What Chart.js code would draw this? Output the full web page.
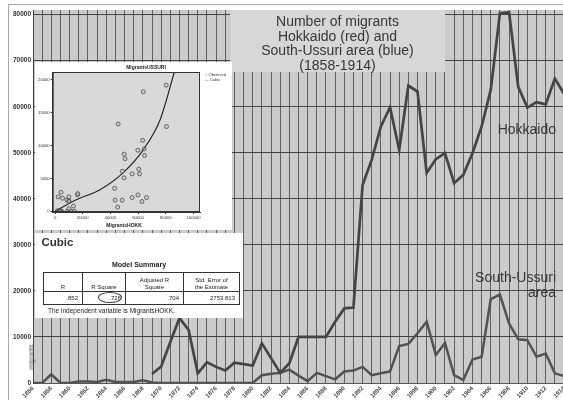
<!DOCTYPE html>
<html>
<head>
<meta charset="utf-8">
<script src="https://cdn.jsdelivr.net/npm/chart.js@4.4.1/dist/chart.umd.min.js"></script>
<style>
  html, body { margin: 0; padding: 0; background: #fff; }
  body { width: 563px; height: 400px; overflow: hidden; position: relative;
         font-family: "Liberation Sans", Arial, sans-serif; color: #333; }
  .abs { position: absolute; }
  #frame { left: 8px; top: 4px; width: 600px; height: 420px;
           border-top: 1px solid #aaa; border-left: 1px solid #aaa; }
  #mainWrap { left: 0; top: 0; width: 575px; height: 400px; }
  #titleBox { left: 230px; top: 10px; width: 215px; height: 62px; background: #d7d7d7;
              text-align: center; font-size: 14px; line-height: 14.6px; color: #363636;
              box-sizing: border-box; padding-top: 4px; }
  .seriesLabel { font-size: 14px; color: #363636; text-align: right; line-height: 15px; }
  #yTitle { left: 30.5px; top: 357px; font-size: 6.5px; color: #444;
            transform: translate(-50%, -50%) rotate(-90deg); white-space: nowrap; }
  #inset { left: 35px; top: 62px; width: 197px; height: 168px; background: #fff; }
  #insetTitle { left: 146px; top: 67px; transform: translate(-50%, -50%);
                font-size: 5px; font-weight: bold; white-space: nowrap; color: #222; }
  #insetXTitle { left: 124px; top: 225px; transform: translate(-50%, -50%);
                 font-size: 5px; font-weight: bold; white-space: nowrap; color: #222; }
  #insetLegend { left: 205px; top: 72px; font-size: 4px; line-height: 5px; color: #333; white-space: nowrap; }
  #cubicBox { left: 35px; top: 233px; width: 208px; height: 85px; background: #fff; }
  #cubicHead { left: 41.5px; top: 236px; font-size: 11.5px; font-weight: bold; color: #333; }
  #modelSum { left: 139px; top: 264px; transform: translate(-50%, -50%);
              font-size: 7px; font-weight: bold; white-space: nowrap; color: #222; }
  #summary { left: 43px; top: 272px; border-collapse: collapse; font-size: 6px; color: #222; }
  #summary td { border: 1px solid #333; padding: 0 4px 1px 4px; }
  #summary tr.h td { height: 17px; text-align: center; vertical-align: bottom; line-height: 6.5px;
                     border-bottom: 1.5px solid #333; }
  #summary tr.d td { height: 11px; text-align: right; vertical-align: middle; }
  #ring { left: 98px; top: 292px; width: 24px; height: 11px; border: 1px solid #444;
          border-radius: 50%; box-sizing: border-box; }
  #footNote { left: 48px; top: 306.5px; font-size: 6.5px; white-space: nowrap; color: #222; }
</style>
</head>
<body>
<div id="frame" class="abs"></div>
<div id="mainWrap" class="abs"><canvas id="main" width="575" height="400"></canvas></div>

<div id="titleBox" class="abs">Number of migrants<br>Hokkaido (red) and<br>South-Ussuri area (blue)<br>(1858-1914)</div>
<div class="abs seriesLabel" style="left:440px; width:116px; top:122px;">Hokkaido</div>
<div class="abs seriesLabel" style="left:440px; width:116px; top:269.5px;">South-Ussuri<br>area</div>
<div id="yTitle" class="abs">migrants</div>

<div id="inset" class="abs"><canvas id="scatter" width="197" height="168"></canvas></div>
<div id="insetTitle" class="abs">MigrantsUSSURI</div>
<div id="insetXTitle" class="abs">MigrantsHOKK</div>
<div id="insetLegend" class="abs">&#9675; Observed<br>&#8212; Cubic</div>

<div id="cubicBox" class="abs"></div>
<div id="cubicHead" class="abs">Cubic</div>
<div id="modelSum" class="abs">Model Summary</div>
<table id="summary" class="abs">
  <tr class="h">
    <td style="width:30px">R</td>
    <td style="width:34px">R Square</td>
    <td style="width:49px">Adjusted R<br>Square</td>
    <td style="width:47px">Std. Error of<br>the Estimate</td>
  </tr>
  <tr class="d">
    <td>.852</td>
    <td>.726</td>
    <td>.704</td>
    <td>2753.813</td>
  </tr>
</table>
<div id="ring" class="abs"></div>
<div id="footNote" class="abs">The independent variable is MigrantsHOKK.</div>

<script>
// Years on the horizontal axis
const years = [
  '1856','1857','1858','1859','1860','1861','1862','1863','1864','1865',
  '1866','1867','1868','1869','1870','1871','1872','1873','1874','1875',
  '1876','1877','1878','1879','1880','1881','1882','1883','1884','1885',
  '1886','1887','1888','1889','1890','1891','1892','1893','1894','1895',
  '1896','1897','1898','1899','1900','1901','1902','1903','1904','1905',
  '1906','1907','1908','1909','1910','1911','1912','1913','1914'
];

// Migrants to Hokkaido (records start in 1869)
const hokkaido = [
  null, null, null, null, null, null, null, null, null, null,
  null, null, null, 1950, 3600, 8900, 14100, 11500, 2100, 4500,
  3500, 2700, 4400, 4100, 3800, 8600, 5400, 2200, 4300, 10000,
  10000, 10000, 10000, 13300, 16200, 16400, 43000, 48500, 55700, 59900,
  50600, 64600, 63300, 45600, 48600, 49900, 43400, 45200, 49900, 55700,
  63700, 80300, 80500, 64300, 59800, 61000, 60500, 66100, 62800
];

// Migrants to the South-Ussuri area
const ussuri = [
  0, 0, 1900, 0, 0, 300, 300, 200, 700, 200,
  200, 200, 600, 100, 0, 0, 0, 0, 0, 0,
  0, 0, 0, 0, 0, 1700, 2000, 2200, 2900, 1600,
  400, 2200, 1500, 800, 2500, 2700, 3500, 1700, 2100, 2500,
  8000, 8500, 10800, 13300, 6100, 8700, 1700, 650, 5100, 5700,
  18200, 19200, 12900, 9500, 9300, 5700, 6400, 2100, 1500
];

// Main-axis ticks
const mainYTicks = [0, 10000, 20000, 30000, 40000, 50000, 60000, 70000, 80000];

// Cubic curve-fit line (MigrantsHOKK -> MigrantsUSSURI)
const cubicFitX = [0, 15700, 32500, 49300, 63800, 75800, 86600];
const cubicFitY = [0, 1800, 3300, 5900, 9400, 13900, 21500];

// Inset axis ticks
const insetXTicks = [0, 20000, 40000, 60000, 80000, 100000];
const insetYTicks = [0, 5000, 10000, 15000, 20000];

// Paired observations for the scatter: years where both series are recorded
const observed = [];
hokkaido.forEach((h, i) => {
  if (h !== null) observed.push({ x: h, y: ussuri[i] });
});
const cubicLine = cubicFitX.map((x, i) => ({ x, y: cubicFitY[i] }));

// Plain integer tick text, no thousands separator
const plainNumber = v => String(v);

// Fills the plotting area and optionally outlines it
const plotArea = {
  id: 'plotArea',
  beforeDraw(chart, args, opts) {
    const { ctx, chartArea: a } = chart;
    ctx.save();
    ctx.fillStyle = opts.color;
    ctx.fillRect(a.left, a.top, a.right - a.left, a.bottom - a.top);
    ctx.restore();
  },
  afterDatasetsDraw(chart, args, opts) {
    if (!opts.outline) return;
    const { ctx, chartArea: a } = chart;
    ctx.save();
    ctx.strokeStyle = opts.outline;
    ctx.lineWidth = 1;
    ctx.strokeRect(a.left + 0.5, a.top + 0.5, a.right - a.left - 1, a.bottom - a.top - 1);
    ctx.restore();
  }
};

Chart.defaults.font.family = '"Liberation Sans", Arial, sans-serif';

new Chart(document.getElementById('main'), {
  type: 'line',
  data: {
    labels: years,
    datasets: [
      { label: 'Hokkaido', data: hokkaido, borderColor: '#444444', borderWidth: 2.7,
        pointRadius: 0, tension: 0, spanGaps: false },
      { label: 'South-Ussuri area', data: ussuri, borderColor: '#525252', borderWidth: 2.5,
        pointRadius: 0, tension: 0 }
    ]
  },
  options: {
    responsive: false,
    animation: false,
    devicePixelRatio: 1,
    layout: { padding: { top: 10, right: 11, left: 0, bottom: 0 } },
    plugins: {
      legend: { display: false },
      tooltip: { enabled: false },
      plotArea: { color: '#cbcbcb' }
    },
    scales: {
      x: {
        type: 'category',
        offset: false,
        grid: { color: '#5f5f5f', lineWidth: 1, drawTicks: false },
        border: { color: '#555' },
        ticks: {
          autoSkip: false, minRotation: 45, maxRotation: 45, padding: 2,
          color: '#444', font: { size: 6, weight: 'bold' },
          callback: (v, i) => (i % 2 === 0 ? years[i] : '')
        },
        afterFit: s => { s.height = 17; }
      },
      y: {
        min: 0, max: 81000,
        afterBuildTicks: s => { s.ticks = mainYTicks.map(v => ({ value: v })); },
        grid: { color: '#444', lineWidth: 1, drawTicks: false },
        border: { color: '#444' },
        ticks: { padding: 2, color: '#333', font: { size: 6.5, weight: 'bold' }, callback: plainNumber },
        afterFit: s => { s.width = 33; }
      }
    }
  },
  plugins: [plotArea]
});

new Chart(document.getElementById('scatter'), {
  type: 'scatter',
  data: {
    datasets: [
      { label: 'Observed', data: observed, pointRadius: 2, pointBorderWidth: 0.8,
        pointBorderColor: '#4a4a4a', pointBackgroundColor: 'rgba(190,190,190,0.4)' },
      { label: 'Cubic', type: 'line', data: cubicLine, borderColor: '#262626', borderWidth: 1.2,
        pointRadius: 0, cubicInterpolationMode: 'monotone' }
    ]
  },
  options: {
    responsive: false,
    animation: false,
    devicePixelRatio: 1,
    layout: { padding: { top: 10, right: 32, left: 0, bottom: 0 } },
    plugins: {
      legend: { display: false },
      tooltip: { enabled: false },
      plotArea: { color: '#d9d9d9', outline: '#333' }
    },
    scales: {
      x: {
        type: 'linear', min: -1700, max: 104700,
        afterBuildTicks: s => { s.ticks = insetXTicks.map(v => ({ value: v })); },
        grid: { drawOnChartArea: false, tickLength: 2, color: '#333' },
        border: { color: '#333' },
        ticks: { padding: 1, color: '#333', font: { size: 4.2 }, maxRotation: 0, callback: plainNumber },
        afterFit: s => { s.height = 18; }
      },
      y: {
        min: -100, max: 21200,
        afterBuildTicks: s => { s.ticks = insetYTicks.map(v => ({ value: v })); },
        grid: { drawOnChartArea: false, tickLength: 2, color: '#333' },
        border: { color: '#333' },
        ticks: { padding: 1, color: '#333', font: { size: 4.2 }, callback: plainNumber },
        afterFit: s => { s.width = 17.7; }
      }
    }
  },
  plugins: [plotArea]
});
</script>
</body>
</html>
